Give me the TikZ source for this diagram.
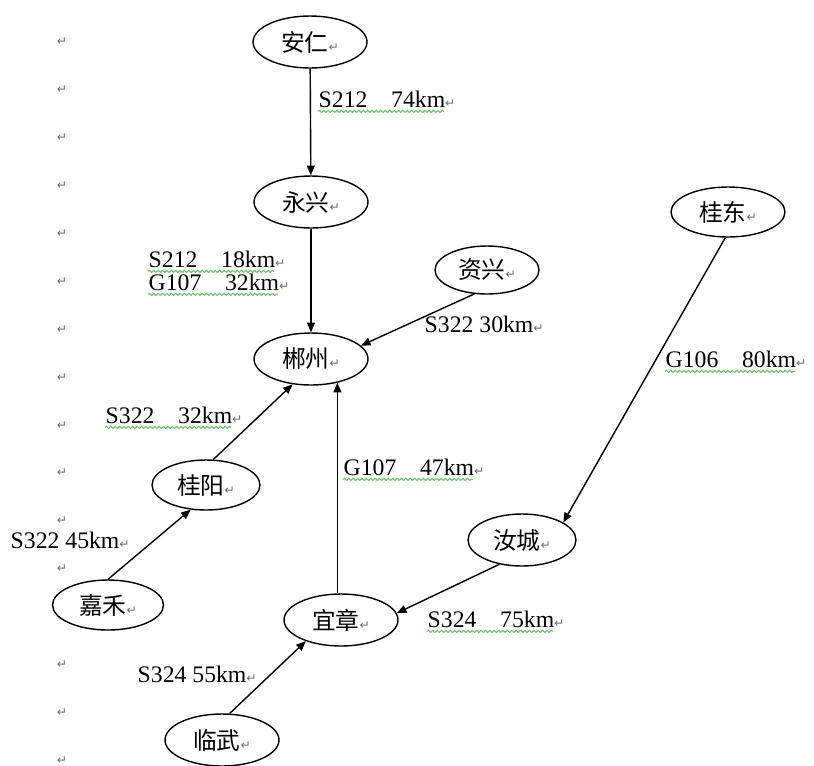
\documentclass[tikz,border=0pt]{standalone}
\usepackage{fontspec}
\setmainfont{Liberation Serif}
\newfontfamily\cjk{Noto Sans CJK SC}
\newfontfamily\markfont{DejaVu Sans}
\usetikzlibrary{arrows.meta,shapes.geometric,decorations.pathmorphing}
\definecolor{markGray}{HTML}{707070}
\definecolor{wavyGreen}{HTML}{6DBE6D}
\newcommand{\pmk}{{\markfont\fontsize{7}{7}\selectfont\textcolor{markGray}{↵}}}

\begin{document}
\begin{tikzpicture}[x=0.02cm,y=-0.02cm,line width=0.8pt,
  >={Triangle[length=5.5pt,width=4.5pt]},
  city/.style={ellipse,draw,fill=white,inner sep=0pt,minimum width=2.28cm,minimum height=1.04cm,font=\cjk\fontsize{13.5}{15}\selectfont},
  road/.style={inner sep=0pt,anchor=base west,font=\fontsize{13.5}{15}\selectfont},
  wavy/.style={wavyGreen,line width=0.6pt,decorate,decoration={snake,amplitude=0.6pt,segment length=2.5pt}},
  pmark/.style={inner sep=0pt}]
\useasboundingbox (0,0) rectangle (814,765);
% paragraph marks down the left margin
\foreach \k in {0,...,15}
  \node[pmark] (pm\k) at (62,{42+47.9*\k}) {\pmk};
% towns
\node[city] (anren) at (310,42) {安仁\pmk};
\node[city] (yongxing) at (311,202) {永兴\pmk};
\node[city,minimum width=2.08cm,minimum height=0.96cm] (zixing) at (487,270) {资兴\pmk};
\node[city] (chenzhou) at (311,359) {郴州\pmk};
\node[city,minimum height=1cm] (guidong) at (728,212) {桂东\pmk};
\node[city,minimum width=2.16cm,minimum height=1cm] (guiyang) at (206,485) {桂阳\pmk};
\node[city,minimum width=2.16cm] (rucheng) at (522,540) {汝城\pmk};
\node[city,minimum width=2.22cm,minimum height=1cm] (jiahe) at (108,605) {嘉禾\pmk};
\node[city] (yizhang) at (341,620) {宜章\pmk};
\node[city] (linwu) at (222,740) {临武\pmk};
% roads
\draw[->] (anren) -- (yongxing);
\draw[->] (yongxing) -- (chenzhou);
\draw[->] (zixing.242) -- (chenzhou.15);
\draw[->] (guiyang.74) -- (chenzhou.234);
\draw[->] (yizhang.north -| chenzhou.318) -- (chenzhou.318);
\draw[->] (guidong.264) -- (rucheng.23);
\draw[->] (rucheng.227) -- (yizhang.7);
\draw[->] (jiahe.north) -- (guiyang.238);
\draw[->] (linwu.74) -- (yizhang.211);
% road names and distances
\node[road] (r1) at (318,107) {S212\quad 74km\pmk};
\node[road] (r2) at (148,267) {S212\quad 18km\pmk};
\node[road] (r3) at (148,290) {G107\quad 32km\pmk};
\node[road] (r4) at (424,332) {S322 30km\pmk};
\node[road] (r5) at (665,367) {G106\quad 80km\pmk};
\node[road] (r6) at (105,423) {S322\quad 32km\pmk};
\node[road] (r7) at (343,475) {G107\quad 47km\pmk};
\node[road] (r8) at (10,548) {S322 45km\pmk};
\node[road] (r9) at (427,627) {S324\quad 75km\pmk};
\node[road] (r10) at (137,682) {S324 55km\pmk};
\foreach \r in {r1,r2,r3,r5,r6,r7,r9}
  \draw[wavy] ([yshift=-2.5pt]\r.base west) -- ([yshift=-2.5pt,xshift=-7pt]\r.base east);
\end{tikzpicture}
\end{document}
